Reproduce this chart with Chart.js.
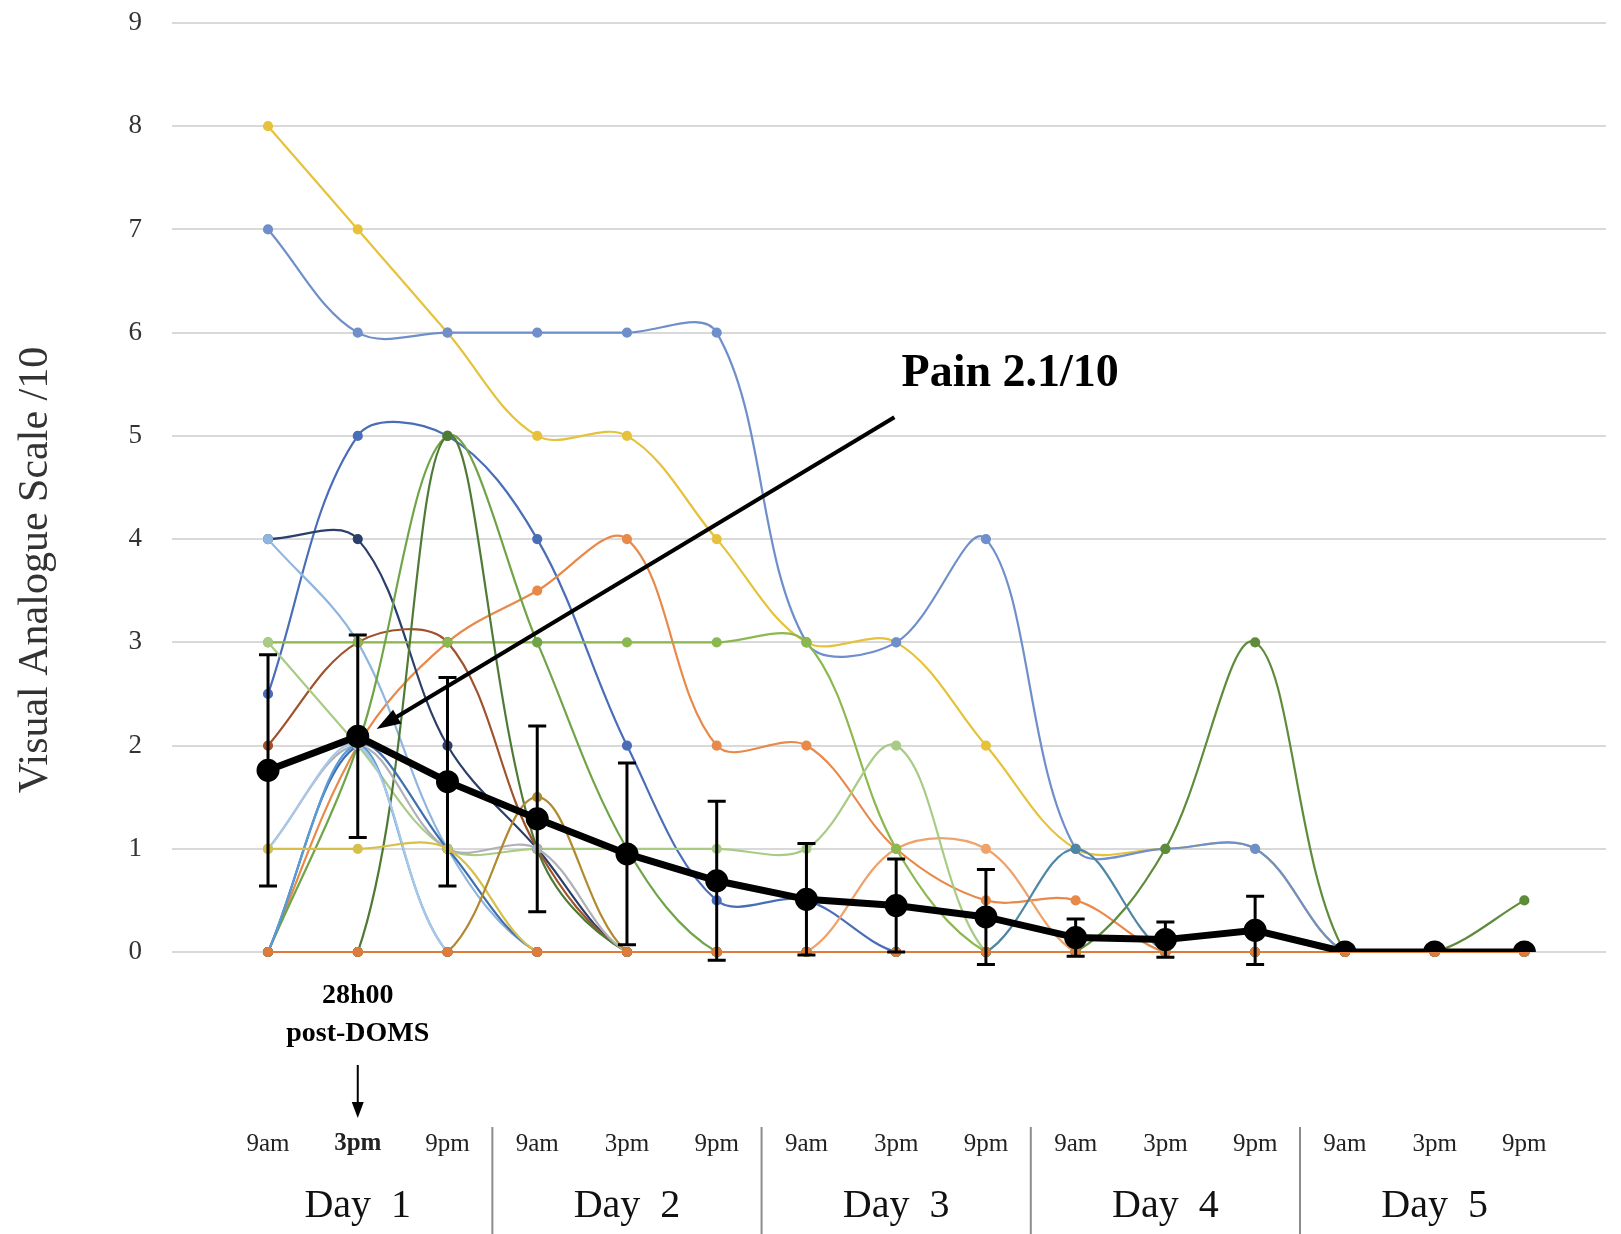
<!DOCTYPE html>
<html>
<head>
<meta charset="utf-8">
<title>Visual Analogue Scale - DOMS</title>
<script src="https://cdn.jsdelivr.net/npm/chart.js@4.4.1/dist/chart.umd.min.js"></script>
<style>
  html, body { margin: 0; padding: 0; background: #fff; }
  canvas { display: block; }
</style>
</head>
<body>
<canvas id="vasChart" width="1621" height="1234"></canvas>
<script>
// Time points along the x axis (3 per day, 5 days)
const timeLabels = ["9am", "3pm", "9pm", "9am", "3pm", "9pm", "9am", "3pm", "9pm",
                    "9am", "3pm", "9pm", "9am", "3pm", "9pm"];
const dayLabels = ["Day  1", "Day  2", "Day  3", "Day  4", "Day  5"];
const yTicks = [0, 1, 2, 3, 4, 5, 6, 7, 8, 9];
const yTitle = "Visual Analogue Scale /10";

// Individual participants (VAS /10)
const p01 = [8, 7, 6, 5, 5, 4, 3, 3, 2, 1, 1, 1, 0, 0, 0];
const p02 = [7, 6, 6, 6, 6, 6, 3, 3, 4, 1, 1, 1, 0, 0, 0];
const p03 = [2.5, 5, 5, 4, 2, 0.5, 0.5, 0, 0, 0, 0, 0, 0, 0, 0];
const p04 = [0, 2, 3, 3.5, 4, 2, 2, 1, 0.5, 0.5, 0, 0, 0, 0, 0];
const p05 = [0, 0, 0, 0, 0, 0, 0, 1, 1, 0, 0, 0, 0, 0, 0];
const p06 = [4, 4, 2, 1, 0, 0, 0, 0, 0, 0, 0, 0, 0, 0, 0];
const p07 = [4, 3, 1, 0, 0, 0, 0, 0, 0, 0, 0, 0, 0, 0, 0];
const p08 = [0, 2, 5, 3, 1, 0, 0, 0, 0, 0, 0, 0, 0, 0, 0];
const p09 = [0, 0, 5, 1, 0, 0, 0, 0, 0, 0, 0, 0, 0, 0, 0];
const p10 = [3, 3, 3, 3, 3, 3, 3, 1, 0, 0, 0, 0, 0, 0, 0];
const p11 = [3, 2, 1, 1, 1, 1, 1, 2, 0, 0, 0, 0, 0, 0, 0];
const p12 = [0, 0, 0, 1.5, 0, 0, 0, 0, 0, 0, 0, 0, 0, 0, 0];
const p13 = [1, 1, 1, 0, 0, 0, 0, 0, 0, 0, 0, 0, 0, 0, 0];
const p14 = [2, 3, 3, 1, 0, 0, 0, 0, 0, 0, 0, 0, 0, 0, 0];
const p15 = [0, 0, 0, 0, 0, 0, 0, 0, 0, 0, 0, 0, 0, 0, 0];
const p16 = [1, 2, 0, 0, 0, 0, 0, 0, 0, 0, 0, 0, 0, 0, 0];
const p17 = [0, 2, 0, 0, 0, 0, 0, 0, 0, 0, 0, 0, 0, 0, 0];
const p18 = [0, 2, 1, 0, 0, 0, 0, 0, 0, 0, 0, 0, 0, 0, 0];
const p19 = [0, 0, 0, 0, 0, 0, 0, 0, 0, 1, 0, 0, 0, 0, 0];
const p20 = [0, 0, 0, 0, 0, 0, 0, 0, 0, 0, 1, 3, 0, 0, 0.5];
const p21 = [1, 2, 1, 1, 0, 0, 0, 0, 0, 0, 0, 0, 0, 0, 0];

// Group mean and standard deviation
const meanScore = [1.76, 2.09, 1.65, 1.29, 0.95, 0.69, 0.51, 0.45, 0.34, 0.14, 0.12, 0.21, 0, 0, 0];
const sdScore = [1.12, 0.98, 1.01, 0.9, 0.88, 0.77, 0.54, 0.45, 0.46, 0.18, 0.17, 0.33, 0, 0, 0];

const participants = [
  { data: p15, color: "#e07b39" },
  { data: p19, color: "#4e86a6" },
  { data: p20, color: "#5e8c3a" },
  { data: p12, color: "#b08a2e" },
  { data: p13, color: "#d6c04a" },
  { data: p16, color: "#a9c8e8" },
  { data: p17, color: "#5b9bd5" },
  { data: p18, color: "#3f6faf" },
  { data: p21, color: "#b0b0b8" },
  { data: p09, color: "#4f7a35" },
  { data: p08, color: "#6fa548" },
  { data: p11, color: "#a8cb85" },
  { data: p10, color: "#8cb850" },
  { data: p14, color: "#a0522d" },
  { data: p07, color: "#8fb6df" },
  { data: p06, color: "#2b3f6b" },
  { data: p05, color: "#f0a26b" },
  { data: p04, color: "#e8894a" },
  { data: p03, color: "#4a6db8" },
  { data: p02, color: "#6f8fcb" },
  { data: p01, color: "#e6c23a" }
];

const toPoints = (arr) => arr.map((v, i) => ({ x: i, y: v }));
const serif = '"Liberation Serif", "Times New Roman", serif';

// mean first so it is drawn on top
const datasets = [{
  label: "Mean",
  data: toPoints(meanScore),
  borderColor: "#000",
  backgroundColor: "#000",
  borderWidth: 7,
  pointRadius: 8,
  pointBackgroundColor: "#000",
  tension: 0
}];

participants.forEach((p, i) => {
  datasets.push({
    label: "P" + (i + 1),
    data: toPoints(p.data),
    borderColor: p.color,
    backgroundColor: p.color,
    pointBackgroundColor: p.color,
    pointBorderColor: p.color,
    borderWidth: 2.2,
    pointRadius: 4,
    tension: 0.35,
    clip: false
  });
});

// Error bars, y title, labels under the axis and the arrows
const overlayPlugin = {
  id: "overlay",
  afterDatasetsDraw(chart) {
    const { ctx, scales: { x, y } } = chart;
    ctx.save();
    ctx.strokeStyle = "#000";
    ctx.lineWidth = 3;
    meanScore.forEach((m, i) => {
      if (!sdScore[i]) return;
      const px = x.getPixelForValue(i);
      const top = y.getPixelForValue(m + sdScore[i]);
      const bot = y.getPixelForValue(m - sdScore[i]);
      ctx.beginPath();
      ctx.moveTo(px, top); ctx.lineTo(px, bot);
      ctx.moveTo(px - 9, top); ctx.lineTo(px + 9, top);
      ctx.moveTo(px - 9, bot); ctx.lineTo(px + 9, bot);
      ctx.stroke();
    });
    ctx.restore();
  },
  afterDraw(chart) {
    const { ctx, chartArea, scales: { x, y } } = chart;
    const bottom = chartArea.bottom;
    ctx.save();

    // y axis title, sitting a bit below the axis middle like the original
    ctx.save();
    ctx.translate(36, y.getPixelForValue(3.7));
    ctx.rotate(-Math.PI / 2);
    ctx.font = "42px " + serif;
    ctx.fillStyle = "#333";
    ctx.textAlign = "center";
    ctx.textBaseline = "middle";
    ctx.fillText(yTitle, 0, 0);
    ctx.restore();

    // "Pain 2.1/10" annotation
    const tx = x.getPixelForValue(6.98), ty = y.getPixelForValue(5.18);
    const hx = x.getPixelForValue(1.21), hy = y.getPixelForValue(2.16);
    const ang = Math.atan2(hy - ty, hx - tx);
    ctx.strokeStyle = "#000";
    ctx.fillStyle = "#000";
    ctx.lineWidth = 4;
    ctx.beginPath();
    ctx.moveTo(tx, ty);
    ctx.lineTo(hx - 14 * Math.cos(ang), hy - 14 * Math.sin(ang));
    ctx.stroke();
    ctx.beginPath();
    ctx.moveTo(hx, hy);
    ctx.lineTo(hx - 24 * Math.cos(ang) + 8 * Math.sin(ang), hy - 24 * Math.sin(ang) - 8 * Math.cos(ang));
    ctx.lineTo(hx - 24 * Math.cos(ang) - 8 * Math.sin(ang), hy - 24 * Math.sin(ang) + 8 * Math.cos(ang));
    ctx.closePath();
    ctx.fill();

    ctx.font = "bold 46px " + serif;
    ctx.textAlign = "left";
    ctx.textBaseline = "middle";
    ctx.fillText("Pain 2.1/10", x.getPixelForValue(7.06), y.getPixelForValue(5.6));

    // 28h00 post-DOMS marker
    const mx = x.getPixelForValue(1);
    ctx.font = "bold 28px " + serif;
    ctx.textAlign = "center";
    ctx.fillText("28h00", mx, bottom + 44);
    ctx.fillText("post-DOMS", mx, bottom + 82);
    ctx.lineWidth = 2;
    ctx.beginPath();
    ctx.moveTo(mx, bottom + 113);
    ctx.lineTo(mx, bottom + 152);
    ctx.stroke();
    ctx.beginPath();
    ctx.moveTo(mx, bottom + 166);
    ctx.lineTo(mx - 6, bottom + 150);
    ctx.lineTo(mx + 6, bottom + 150);
    ctx.closePath();
    ctx.fill();

    // day labels and separators
    ctx.font = "40px " + serif;
    ctx.fillStyle = "#111";
    dayLabels.forEach((d, i) => {
      ctx.fillText(d, x.getPixelForValue(i * 3 + 1), bottom + 254);
      if (i > 0) {
        const sx = x.getPixelForValue(i * 3 - 0.5);
        ctx.strokeStyle = "#8c8c8c";
        ctx.lineWidth = 2;
        ctx.beginPath();
        ctx.moveTo(sx, bottom + 175);
        ctx.lineTo(sx, chart.height);
        ctx.stroke();
      }
    });
    ctx.restore();
  }
};

new Chart(document.getElementById("vasChart"), {
  type: "line",
  data: { datasets: datasets },
  plugins: [overlayPlugin],
  options: {
    responsive: false,
    animation: false,
    devicePixelRatio: 1,
    layout: { padding: { top: 23, left: 0, right: 0, bottom: 0 } },
    plugins: {
      legend: { display: false },
      tooltip: { enabled: false }
    },
    scales: {
      x: {
        type: "linear",
        min: -1.07,
        max: 14.91,
        grid: { display: false, drawTicks: false },
        border: { display: false },
        afterBuildTicks: (scale) => {
          scale.ticks = timeLabels.map((_, i) => ({ value: i }));
        },
        afterFit: (scale) => {
          scale.height = 282;
          scale.paddingLeft = 0;
          scale.paddingRight = 0;
        },
        ticks: {
          autoSkip: false,
          maxRotation: 0,
          padding: 177,
          color: "#222",
          font: (c) => ({ family: serif, size: 25, weight: c.index === 1 ? "bold" : "normal" }),
          callback: (v) => timeLabels[v] || ""
        }
      },
      y: {
        min: 0,
        max: 9,
        afterBuildTicks: (scale) => {
          scale.ticks = yTicks.map((v) => ({ value: v }));
        },
        afterFit: (scale) => {
          scale.width = 172;
          scale.paddingTop = 0;
          scale.paddingBottom = 0;
        },
        grid: { color: "#d9d9d9", lineWidth: 2, drawTicks: false },
        border: { display: false },
        ticks: {
          padding: 30,
          color: "#333",
          font: { family: serif, size: 27 }
        }
      }
    }
  }
});
</script>
</body>
</html>
